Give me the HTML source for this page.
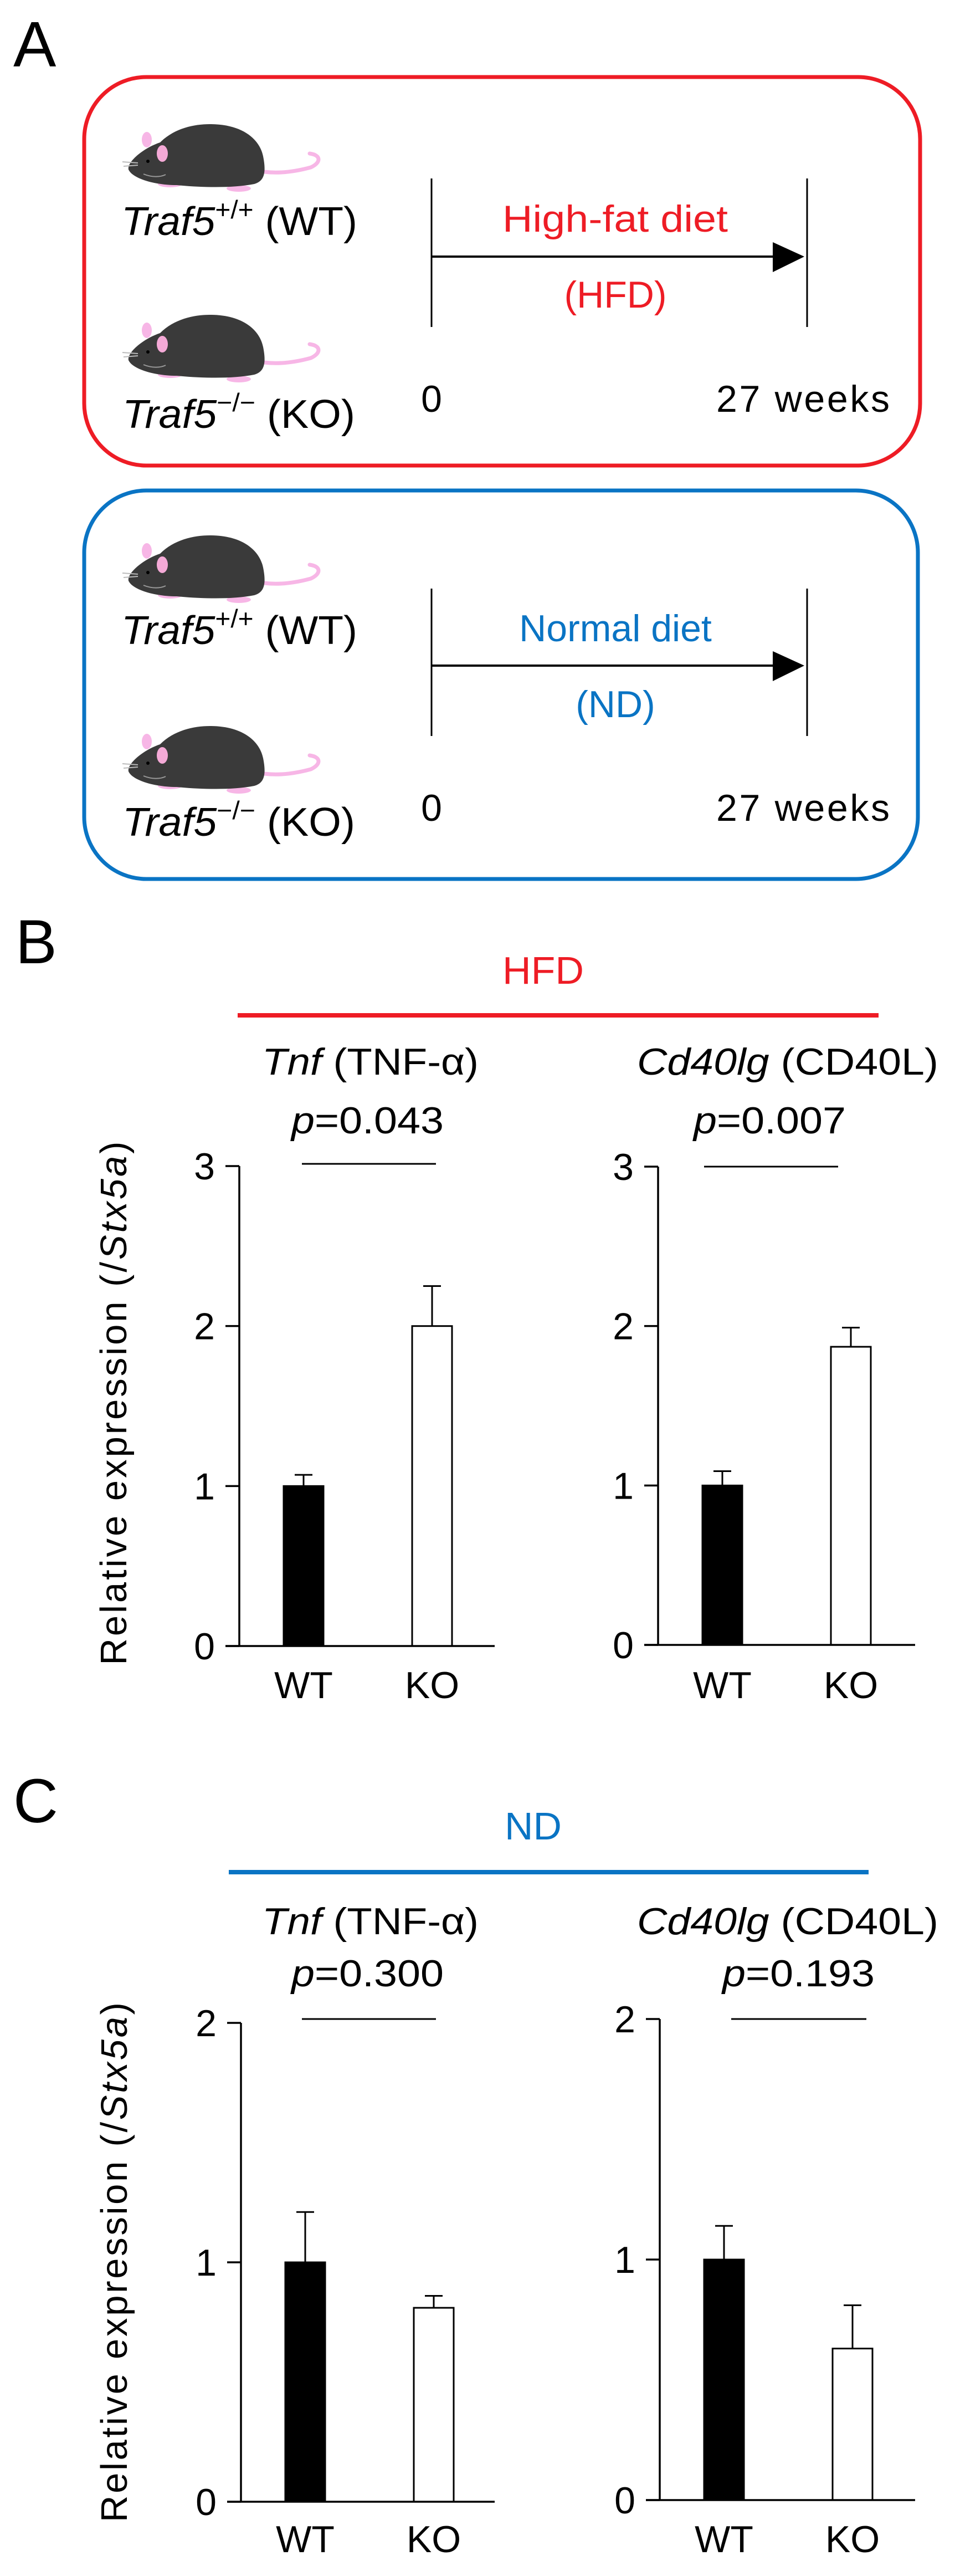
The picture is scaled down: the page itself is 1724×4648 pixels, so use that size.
<!DOCTYPE html>
<html><head><meta charset="utf-8"><style>
html,body{margin:0;padding:0;background:#fff;}
svg{display:block;font-family:"Liberation Sans",Arial,sans-serif;}
</style></head><body>
<svg id="fig" width="1724" height="4648" viewBox="0 0 1724 4648" xmlns="http://www.w3.org/2000/svg">
<defs>
<g id="mouse">
  <path d="M258,88 C290,92 320,86 342,80 C360,72 362,58 340,55" fill="none" stroke="#f7b6e6" stroke-width="7" stroke-linecap="round"/>
  <ellipse cx="88" cy="110" rx="22" ry="6" fill="#f7b6e6"/>
  <ellipse cx="212" cy="118" rx="22" ry="6" fill="#f7b6e6"/>
  <ellipse cx="46" cy="30" rx="9" ry="14" fill="#f7b6e6"/>
  <path d="M13,84 C10,70 40,45 70,35 C95,10 130,2 160,2 C220,2 250,30 256,60 C262,90 258,105 240,110 C200,118 140,116 100,112 C60,112 20,100 13,84 Z" fill="#3a3a3a"/>
  <ellipse cx="74" cy="55" rx="10" ry="15" fill="#f4a9d6"/>
  <circle cx="48" cy="69" r="3" fill="#000"/>
  <path d="M2,70 L30,72 M4,78 L30,76" stroke="#bbb" stroke-width="2"/>
  <path d="M40,92 C55,98 70,98 80,93" fill="none" stroke="#999" stroke-width="2"/>
</g>
</defs>

<text x="24" y="120" font-size="116">A</text>

<g>
  <rect x="152" y="139" width="1509" height="701" rx="112" fill="none" stroke="#ee1c25" stroke-width="7"/>
  <use href="#mouse" x="219" y="222"/>
  <use href="#mouse" x="219" y="566"/>
  <text x="219" y="424" font-size="72" textLength="426" lengthAdjust="spacingAndGlyphs"><tspan font-style="italic">Traf5</tspan><tspan font-size="46" dy="-30">+/+</tspan><tspan dy="30"> (WT)</tspan></text>
  <text x="221" y="772" font-size="72" textLength="420" lengthAdjust="spacingAndGlyphs"><tspan font-style="italic">Traf5</tspan><tspan font-size="46" dy="-30">−/−</tspan><tspan dy="30"> (KO)</tspan></text>
  <line x1="779" y1="322" x2="779" y2="590" stroke="#000" stroke-width="3"/>
  <line x1="1457" y1="322" x2="1457" y2="590" stroke="#000" stroke-width="3"/>
  <line x1="779" y1="463" x2="1400" y2="463" stroke="#000" stroke-width="4"/>
  <polygon points="1395,437 1452,463 1395,491" fill="#000"/>
  <text x="907" y="418" font-size="68" fill="#ee1c25" textLength="407" lengthAdjust="spacingAndGlyphs">High-fat diet</text>
  <text x="1111" y="555" font-size="68" fill="#ee1c25" text-anchor="middle">(HFD)</text>
  <text x="779" y="743" font-size="68" text-anchor="middle">0</text>
  <text x="1293" y="743" font-size="68" textLength="313">27 weeks</text>
</g>

<g transform="translate(0,742)">
  <rect x="152" y="143" width="1505" height="701" rx="112" fill="none" stroke="#0a74c4" stroke-width="7"/>
  <use href="#mouse" x="219" y="222"/>
  <use href="#mouse" x="219" y="566"/>
  <text x="219" y="420" font-size="72" textLength="426" lengthAdjust="spacingAndGlyphs"><tspan font-style="italic">Traf5</tspan><tspan font-size="46" dy="-30">+/+</tspan><tspan dy="30"> (WT)</tspan></text>
  <text x="221" y="766" font-size="72" textLength="420" lengthAdjust="spacingAndGlyphs"><tspan font-style="italic">Traf5</tspan><tspan font-size="46" dy="-30">−/−</tspan><tspan dy="30"> (KO)</tspan></text>
  <line x1="779" y1="320" x2="779" y2="586" stroke="#000" stroke-width="3"/>
  <line x1="1457" y1="320" x2="1457" y2="586" stroke="#000" stroke-width="3"/>
  <line x1="779" y1="459" x2="1400" y2="459" stroke="#000" stroke-width="4"/>
  <polygon points="1395,433 1452,459 1395,487" fill="#000"/>
  <text x="1111" y="415" font-size="68" fill="#0a74c4" text-anchor="middle">Normal diet</text>
  <text x="1111" y="552" font-size="68" fill="#0a74c4" text-anchor="middle">(ND)</text>
  <text x="779" y="739" font-size="68" text-anchor="middle">0</text>
  <text x="1293" y="739" font-size="68" textLength="313">27 weeks</text>
</g>

<text x="28" y="1738" font-size="112">B</text>
<text x="907" y="1775" font-size="70" fill="#ee1c25" textLength="147" lengthAdjust="spacingAndGlyphs">HFD</text>
<line x1="429" y1="1832" x2="1586" y2="1832" stroke="#ee1c25" stroke-width="8"/>
<text x="473" y="1939" font-size="68" textLength="391" lengthAdjust="spacingAndGlyphs"><tspan font-style="italic">Tnf</tspan> (TNF-α)</text>
<text x="1150" y="1939" font-size="68" textLength="544" lengthAdjust="spacingAndGlyphs"><tspan font-style="italic">Cd40lg</tspan> (CD40L)</text>
<text transform="translate(228,2532) rotate(-90)" font-size="67" text-anchor="middle" textLength="945">Relative expression (/<tspan font-style="italic">Stx5a</tspan>)</text>

<text x="24" y="3288" font-size="112">C</text>
<text x="911" y="3319" font-size="70" fill="#0a74c4" textLength="103" lengthAdjust="spacingAndGlyphs">ND</text>
<line x1="413" y1="3378" x2="1568" y2="3378" stroke="#0a74c4" stroke-width="8"/>
<text x="473" y="3490" font-size="68" textLength="391" lengthAdjust="spacingAndGlyphs"><tspan font-style="italic">Tnf</tspan> (TNF-α)</text>
<text x="1150" y="3490" font-size="68" textLength="544" lengthAdjust="spacingAndGlyphs"><tspan font-style="italic">Cd40lg</tspan> (CD40L)</text>
<text transform="translate(229,4082) rotate(-90)" font-size="67" text-anchor="middle" textLength="938">Relative expression (/<tspan font-style="italic">Stx5a</tspan>)</text>

<g id="charts"></g>
</svg>
<script>
const groups = ['WT', 'KO'];
const hfdTnfMean = [1.0, 2.0];
const hfdTnfErr = [0.07, 0.25];
const hfdCdMean = [1.0, 1.87];
const hfdCdErr = [0.09, 0.12];
const ndTnfMean = [1.0, 0.81];
const ndTnfErr = [0.21, 0.05];
const ndCdMean = [1.0, 0.63];
const ndCdErr = [0.14, 0.18];
const hfdTicks = [0, 1, 2, 3];
const ndTicks = [0, 1, 2];
const pLabels = ['0.043', '0.007', '0.300', '0.193'];

const NS = 'http://www.w3.org/2000/svg';
const root = document.getElementById('charts');
function mk(tag, attrs, parent) {
  const e = document.createElementNS(NS, tag);
  for (const k in attrs) e.setAttribute(k, attrs[k]);
  parent.appendChild(e);
  return e;
}
const layouts = [
  {key:'hfd-tnf', axisX:432, xEnd:893, y0:2970, yTop:2104, ticks:hfdTicks, mean:hfdTnfMean, err:hfdTnfErr, p:pLabels[0], pX:526, pY:2045, sigX1:545, sigX2:787, sigY:2100, labY:3064},
  {key:'hfd-cd40lg', axisX:1188, xEnd:1652, y0:2968, yTop:2105, ticks:hfdTicks, mean:hfdCdMean, err:hfdCdErr, p:pLabels[1], pX:1252, pY:2045, sigX1:1271, sigX2:1513, sigY:2105, labY:3064},
  {key:'nd-tnf', axisX:435, xEnd:893, y0:4514, yTop:3650, ticks:ndTicks, mean:ndTnfMean, err:ndTnfErr, p:pLabels[2], pX:526, pY:3584, sigX1:545, sigX2:787, sigY:3643, labY:4605},
  {key:'nd-cd40lg', axisX:1191, xEnd:1652, y0:4511, yTop:3643, ticks:ndTicks, mean:ndCdMean, err:ndCdErr, p:pLabels[3], pX:1304, pY:3584, sigX1:1320, sigX2:1564, sigY:3643, labY:4605}
];
layouts.forEach(L => {
  const g = mk('g', {}, root);
  
  
  const yMax = L.ticks[L.ticks.length - 1];
  const yScale = v => L.y0 - (v / yMax) * (L.y0 - L.yTop);
  const xScale = i => L.axisX + 116 + i * 232;
  const barW = 72;
  L.mean.forEach((m, i) => {
    const cx = xScale(i);
    const top = yScale(m);
    const et = yScale(m + L.err[i]);
    const eb = mk('line', {x1:cx, y1:top, x2:cx, y2:et, stroke:'#000', 'stroke-width':3}, g);
    
    
    const cap = mk('line', {x1:cx-16, y1:et, x2:cx+16, y2:et, stroke:'#000', 'stroke-width':3}, g);
    
    
    const r = mk('rect', {x:cx-barW/2, y:top, width:barW, height:L.y0-top, fill:i===0?'#000':'#fff', stroke:'#000', 'stroke-width':3}, g);
    
    
    const t = mk('text', {x:cx, y:L.labY, 'font-size':68, 'text-anchor':'middle'}, g);
    
    
    t.textContent = groups[i];
  });
  const ya = mk('line', {x1:L.axisX, y1:L.yTop, x2:L.axisX, y2:L.y0, stroke:'#000', 'stroke-width':3.5}, g);
  
  
  const xa = mk('line', {x1:L.axisX-25, y1:L.y0, x2:L.xEnd, y2:L.y0, stroke:'#000', 'stroke-width':3.5}, g);
  
  
  L.ticks.forEach(v => {
    const y = yScale(v);
    const tk = mk('line', {x1:L.axisX-25, y1:y, x2:L.axisX, y2:y, stroke:'#000', 'stroke-width':3.5}, g);
    
    
    const tl = mk('text', {x:L.axisX-44, y:y+24, 'font-size':68, 'text-anchor':'end'}, g);
    
    
    tl.textContent = String(v);
  });
  const sl = mk('line', {x1:L.sigX1, y1:L.sigY, x2:L.sigX2, y2:L.sigY, stroke:'#000', 'stroke-width':3}, g);
  
  
  const pt = mk('text', {x:L.pX, y:L.pY, 'font-size':68, textLength:275, lengthAdjust:'spacingAndGlyphs'}, g);
  
  
  const pi = mk('tspan', {'font-style':'italic'}, pt);
  pi.textContent = 'p';
  const pv = mk('tspan', {}, pt);
  pv.textContent = '=' + L.p;
});
</script>
</body></html>
